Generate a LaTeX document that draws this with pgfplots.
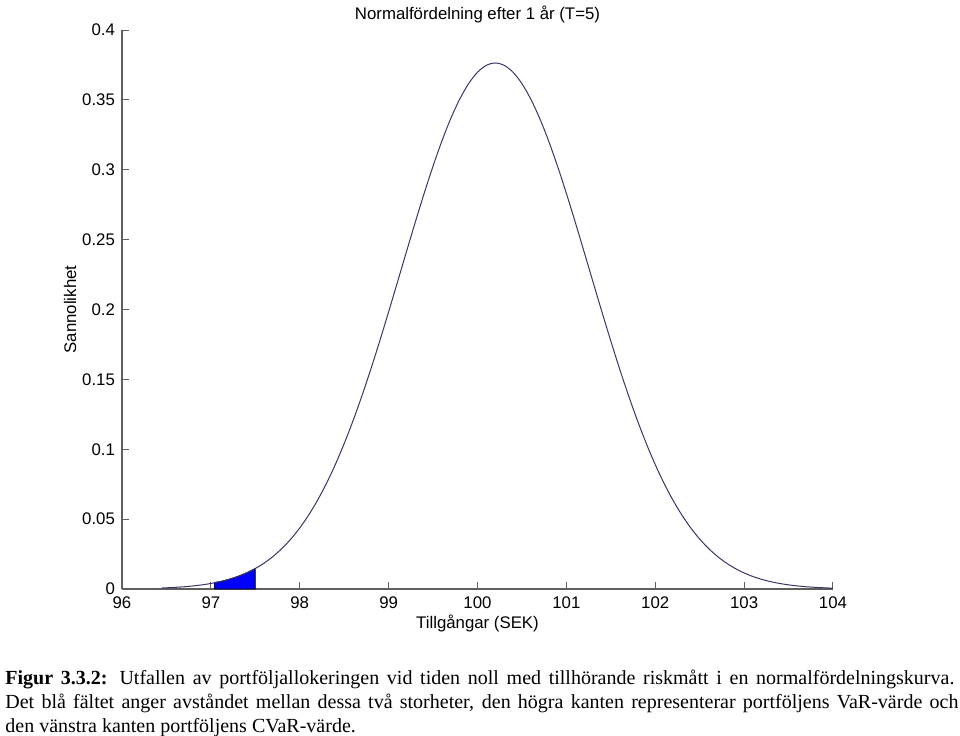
\documentclass[border=0pt]{standalone}
\usepackage{fontspec}
\setmainfont{Liberation Serif}
\newfontfamily\arial{Liberation Sans}
\usepackage{pgfplots}
\pgfplotsset{compat=1.18}
\definecolor{curvecol}{RGB}{55,55,105}
\definecolor{axcol}{RGB}{95,95,95}
\begin{document}
\begin{tikzpicture}
\path[use as bounding box] (-61pt,-73pt) rectangle (419pt,294.5pt);
\begin{axis}[
  scale only axis, width=355.5pt, height=279.5pt,
  xmin=96, xmax=104, ymin=0, ymax=0.4,
  clip=false,
  axis lines=left,
  axis line style={-, draw=axcol, line width=0.6pt},
  every tick/.style={draw=axcol, line width=0.5pt},
  tick align=inside, major tick length=3.5pt,
  xtick={96,97,98,99,100,101,102,103,104},
  ytick={0,0.05,0.1,0.15,0.2,0.25,0.3,0.35,0.4},
  /pgf/number format/assume math mode=true,
  yticklabel style={/pgf/number format/fixed, /pgf/number format/precision=2},
  ticklabel style={font=\arial\fontsize{8.4}{10}\selectfont, text=black},
  xticklabel style={anchor=base, yshift=-9.5pt},
  xlabel={Tillgångar (SEK)},
  xlabel style={font=\arial\fontsize{8.4}{10}\selectfont, at={(axis description cs:0.5,0)}, anchor=base, yshift=-19.5pt},
  ylabel={Sannolikhet},
  ylabel style={font=\arial\fontsize{8.4}{10}\selectfont, at={(axis description cs:-0.0731,0.5)}, anchor=center},
]
\addplot[fill=blue, draw=black, line width=0.4pt] coordinates {
 (97.04,0) (97.04,0.00472) (97.1,0.00523) (97.2,0.00686) (97.3,0.00892) (97.4,0.01149) (97.5,0.01468) (97.5,0)
} -- cycle;
\addplot[color=curvecol, line width=0.5pt, smooth] coordinates {
 (96.45,0.00072) (96.5,0.00085) (96.6,0.00118) (96.7,0.00161) (96.8,0.00220) (96.9,0.00296)
 (97.0,0.00395) (97.1,0.00523) (97.2,0.00686) (97.3,0.00892) (97.4,0.01149) (97.5,0.01468)
 (97.6,0.01858) (97.7,0.02332) (97.8,0.02901) (97.9,0.03575) (98.0,0.04368) (98.1,0.05289)
 (98.2,0.06348) (98.3,0.07551) (98.4,0.08902) (98.5,0.10402) (98.6,0.12048) (98.7,0.13830)
 (98.8,0.15735) (98.9,0.17744) (99.0,0.19832) (99.1,0.21969) (99.2,0.24120) (99.3,0.26249)
 (99.4,0.28312) (99.5,0.30266) (99.6,0.32068) (99.7,0.33677) (99.8,0.35053) (99.9,0.36162)
 (100.0,0.36976) (100.1,0.37473) (100.2,0.37640) (100.3,0.37473) (100.4,0.36976) (100.5,0.36162)
 (100.6,0.35053) (100.7,0.33677) (100.8,0.32068) (100.9,0.30266) (101.0,0.28312) (101.1,0.26249)
 (101.2,0.24120) (101.3,0.21969) (101.4,0.19832) (101.5,0.17744) (101.6,0.15735) (101.7,0.13830)
 (101.8,0.12048) (101.9,0.10402) (102.0,0.08902) (102.1,0.07551) (102.2,0.06348) (102.3,0.05289)
 (102.4,0.04368) (102.5,0.03575) (102.6,0.02901) (102.7,0.02332) (102.8,0.01858) (102.9,0.01468)
 (103.0,0.01149) (103.1,0.00892) (103.2,0.00686) (103.3,0.00523) (103.4,0.00395) (103.5,0.00296)
 (103.6,0.00220) (103.7,0.00161) (103.8,0.00118) (103.9,0.00085) (104.0,0.00061)
};
\node[anchor=base, font=\arial\fontsize{8.4}{10}\selectfont, inner sep=0, yshift=5.5pt]
  at (axis description cs:0.5,1) {Normalfördelning efter 1 år (T=5)};
\end{axis}
\node[anchor=base west, inner sep=0, font=\fontsize{10}{12}\selectfont] at (-58.5pt,-47.5pt)
  {\makebox[474.5pt][s]{\textbf{Figur 3.3.2:} Utfallen av portföljallokeringen vid tiden noll med tillhörande riskmått i en normalfördelningskurva.}};
\node[anchor=base west, inner sep=0, font=\fontsize{10}{12}\selectfont] at (-58.5pt,-59.75pt)
  {\makebox[476.5pt][s]{Det blå fältet anger avståndet mellan dessa två storheter, den högra kanten representerar portföljens VaR-värde och}};
\node[anchor=base west, inner sep=0, font=\fontsize{10}{12}\selectfont] at (-58.5pt,-71.5pt)
  {den vänstra kanten portföljens CVaR-värde.};
\end{tikzpicture}
\end{document}
